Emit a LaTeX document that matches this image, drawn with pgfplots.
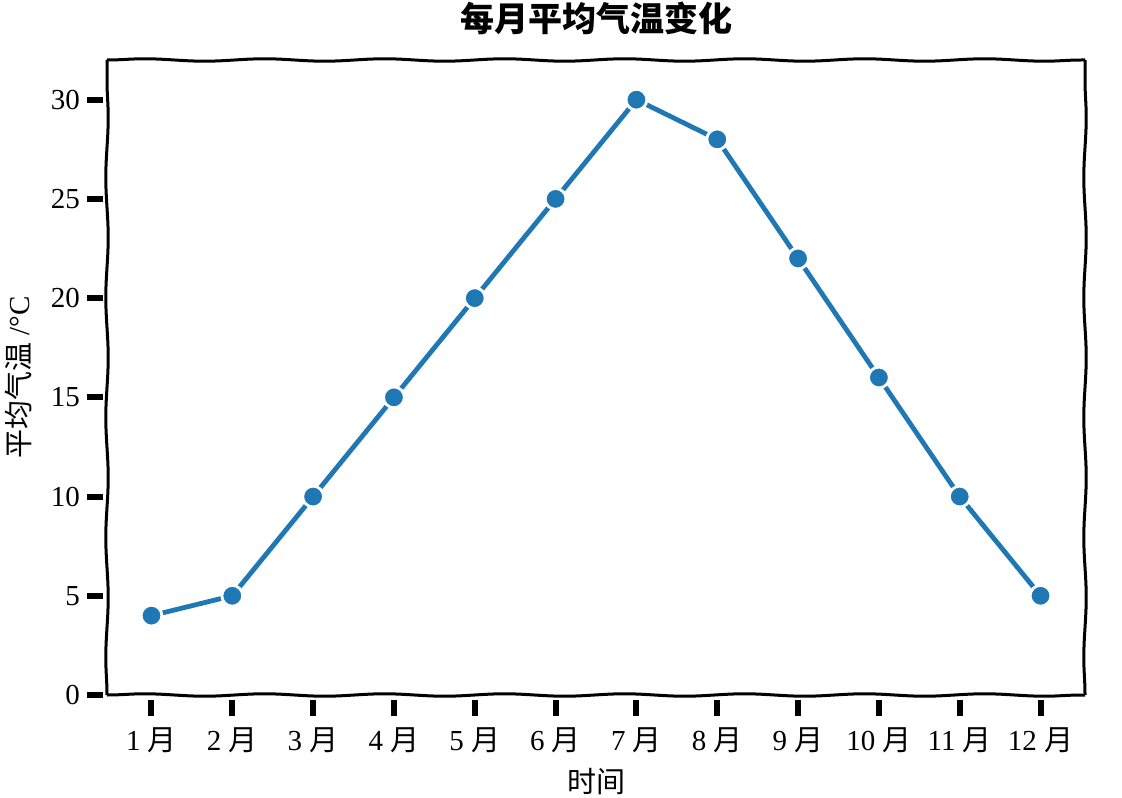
\documentclass[border=0pt]{standalone}
\usepackage{fontspec}
\setmainfont{Liberation Serif}
\newfontfamily\cjk{Noto Sans CJK SC}
\usepackage{pgfplots}
\pgfplotsset{compat=1.18}
\usetikzlibrary{decorations.pathmorphing}
\definecolor{tabblue}{HTML}{1F77B4}

\begin{document}
\begin{tikzpicture}
\begin{axis}[
  name=ax,
  at={(0,0)}, anchor=south west,
  scale only axis,
  width=489pt, height=317.5pt,
  xmin=0.45, xmax=12.55,
  ymin=0, ymax=32,
  xtick={1,...,12},
  xticklabels={1 {\cjk 月},2 {\cjk 月},3 {\cjk 月},4 {\cjk 月},5 {\cjk 月},6 {\cjk 月},
    7 {\cjk 月},8 {\cjk 月},9 {\cjk 月},10 {\cjk 月},11 {\cjk 月},12 {\cjk 月}},
  ytick={0,5,...,30},
  xtick pos=bottom, ytick pos=left,
  tick align=outside,
  major tick length=8pt,
  major tick style={black, line width=3pt},
  xtick style={yshift=-2.5pt},
  ytick style={xshift=-2pt},
  /pgf/number format/assume math mode=true,
  tick label style={font=\fontsize{14.5}{17}\selectfont},
  xticklabel style={yshift=-5pt},
  yticklabel style={xshift=-2pt},
  axis line style={draw=none},
  xlabel={\cjk 时间},
  xlabel style={at={(axis description cs:0.5,-0.137)}, anchor=center,
    font=\fontsize{14.5}{17}\selectfont},
  ylabel={{\cjk 平均气温} /°C},
  ylabel style={at={(axis description cs:-0.091,0.5)}, anchor=center,
    font=\fontsize{14.5}{17}\selectfont},
]
\addplot[
  tabblue, line width=2.4pt,
  mark=*, mark size=5.2pt,
  mark options={fill=tabblue, draw=white, line width=1.4pt},
] coordinates {
(1,4)(2,5)(3,10)(4,15)(5,20)(6,25)(7,30)(8,28)(9,22)(10,16)(11,10)(12,5)
};
\end{axis}
% hand-drawn frame
\begin{scope}[line width=1.5pt, decoration={snake, amplitude=0.6pt, segment length=60pt}]
\draw[decorate] (ax.south west) -- (ax.south east);
\draw[decorate] (ax.north west) -- (ax.north east);
\draw[decorate] (ax.south west) -- (ax.north west);
\draw[decorate] (ax.south east) -- (ax.north east);
\end{scope}
\node[font=\cjk\bfseries\fontsize{17}{20}\selectfont, anchor=center]
  at ([yshift=21pt]ax.north) {每月平均气温变化};
\pgfresetboundingbox
\path (-53.5pt,-51pt) rectangle (507.5pt,347.5pt);
\end{tikzpicture}
\end{document}
